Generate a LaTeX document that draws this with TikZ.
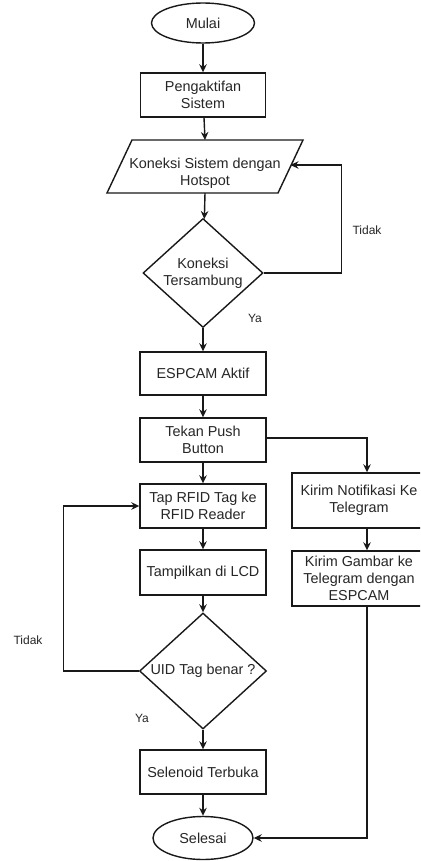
\documentclass[tikz,border=0pt]{standalone}
\usepackage{fontspec}
\setmainfont{Liberation Sans}
\usetikzlibrary{arrows.meta,shapes.geometric,calc}
\begin{document}
\begin{tikzpicture}[x=1pt,y=-1pt,
  every node/.style={font=\fontsize{14.4}{17}\selectfont, text=black!85},
  line/.style={draw=black!90, line width=1.4pt},
  arr/.style={line, -{Stealth[length=8pt,width=7.5pt]}},
  box/.style={line, rectangle, align=center, inner sep=0pt},
  term/.style={line, ellipse, inner sep=0pt},
  dia/.style={line, diamond, inner sep=0pt},
  plain/.style={inner sep=0pt, align=center},
  lbl/.style={inner sep=0pt, font=\fontsize{12}{14}\selectfont}]
\useasboundingbox (0,0) rectangle (420,861);
\clip (0,0) rectangle (420,861);
\fill[white] (0,0) rectangle (420,861);

% main column
\node[term, minimum width=103, minimum height=40] (mulai) at (203,23) {Mulai};
\node[box, minimum width=125, minimum height=44] (peng) at (203,95) {Pengaktifan\\Sistem};
\node[plain, minimum width=171, minimum height=53] (kon) at (205,166.5) {};
\draw[line] ($(kon.center)+(-73,-26.5)$) -- ($(kon.center)+(98,-26.5)$)
   -- ($(kon.center)+(73,26.5)$) -- ($(kon.center)+(-98,26.5)$) -- cycle;
\node[plain] (kont) at (205,173) {Koneksi Sistem dengan\\Hotspot};
\coordinate (konin) at ($(kon.center)+(85.5,-1.5)$);

\node[dia, minimum width=120, minimum height=109] (cek) at (203,273) {};
\node[plain] (cekt) at (203,273) {Koneksi\\Tersambung};

\node[box, minimum width=126, minimum height=43] (esp) at (203,373.5) {ESPCAM Aktif};
\node[box, minimum width=126, minimum height=44] (push) at (203,440) {Tekan Push\\Button};
\node[box, minimum width=126, minimum height=44] (tap) at (203,506) {Tap RFID Tag ke\\RFID Reader};
\node[box, minimum width=126, minimum height=45] (lcd) at (203,572.5) {Tampilkan di LCD};
\node[dia, minimum width=127, minimum height=116] (uid) at (203,671) {};
\node[plain] (uidt) at (203,671) {UID Tag benar ?};
\node[box, minimum width=126, minimum height=44] (sel) at (203,772) {Selenoid Terbuka};
\node[term, minimum width=100, minimum height=43] (selesai) at (203,838) {Selesai};

% right column
\node[box, minimum width=134, minimum height=55] (notif) at (359,500.5) {Kirim Notifikasi Ke\\Telegram};
\node[box, minimum width=134, minimum height=55] (gambar) at (359,578.5) {Kirim Gambar ke\\Telegram dengan\\ESPCAM};

% connectors
\draw[arr] (mulai) -- (peng);
\draw[arr] (peng) -- (kon.north |- 0,140);
\draw[arr] (kon.south |- 0,193) -- (cek);
\draw[arr] (cek.east) -- ++(78,0) |- (konin);
\draw[arr] (cek) -- (esp);
\draw[arr] (esp) -- (push);
\draw[arr] (push) -- (tap);
\draw[arr] (tap) -- (lcd);
\draw[arr] (lcd) -- (uid);
\draw[arr] (uid.west) -- ++(-75.5,0) |- (tap.west);
\draw[arr] (uid) -- (sel);
\draw[arr] (sel) -- (selesai);
\draw[arr] (push.east) ++(0,-2) -| ([xshift=8]notif.north);
\draw[arr] ([xshift=8]notif.south) -- ([xshift=8]gambar.north);
\draw[arr] ([xshift=8]gambar.south) |- (selesai.east);

% labels
\node[lbl] (tidak1) at (367,230) {Tidak};
\node[lbl] (ya1) at (255,318) {Ya};
\node[lbl] (tidak2) at (28,640) {Tidak};
\node[lbl] (ya2) at (142,718) {Ya};
\end{tikzpicture}
\end{document}
